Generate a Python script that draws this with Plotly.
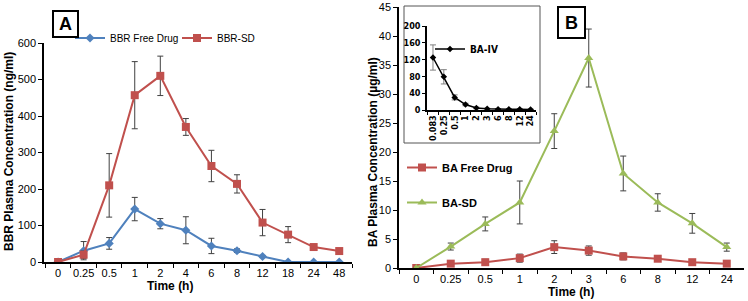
import plotly.graph_objects as go

# ---------- Panel A data ----------
a_time = ["0", "0.25", "0.5", "1", "2", "4", "6", "8", "12", "18", "24", "48"]
bbr_free = [0, 31, 51, 145, 105, 87, 44, 31, 15, 0, 0, 0]
bbr_free_err = [0, 25, 16, 32, 14, 37, 21, 5, 3, 0, 0, 0]
bbr_sd = [0, 20, 210, 457, 510, 370, 263, 214, 108, 75, 41, 30]
bbr_sd_err = [0, 10, 87, 92, 54, 23, 43, 25, 36, 22, 3, 3]

# ---------- Panel B data ----------
b_time = ["0", "0.25", "0.5", "1", "2", "3", "6", "8", "12", "24"]
ba_free = [0, 0.75, 1.0, 1.7, 3.6, 3.0, 2.0, 1.6, 1.0, 0.75]
ba_free_err = [0, 0.2, 0.5, 0.7, 1.1, 0.8, 0.6, 0.3, 0.3, 0.3]
ba_sd = [0, 3.7, 7.6, 11.3, 23.6, 36.2, 16.3, 11.3, 7.7, 3.6]
ba_sd_err = [0, 0.6, 1.2, 3.7, 3.0, 5.0, 3.0, 1.5, 1.7, 0.7]

# ---------- Inset data ----------
iv_time = ["0.083", "0.25", "0.5", "1", "2", "3", "6", "8", "12", "24"]
ba_iv = [125, 79, 30, 13, 5, 3, 2, 2, 2, 1]
ba_iv_err = [30, 17, 6, 3, 2, 1, 1, 1, 1, 1]

BLUE = "#4F81BD"
RED = "#C0504D"
GREEN = "#9BBB59"
ERR = "#404040"
FONT = "Liberation Sans, Arial, sans-serif"
NARROW = "Liberation Sans Narrow, DejaVu Sans Condensed, Arial Narrow, sans-serif"

fig = go.Figure()

def err(arr):
    return dict(type="data", array=arr, color=ERR, thickness=1, width=3)

fig.add_trace(go.Scatter(x=a_time, y=bbr_free, name="BBR Free Drug", mode="lines+markers",
                         line=dict(color=BLUE, width=2), marker=dict(symbol="diamond", size=7, color=BLUE),
                         error_y=err(bbr_free_err), xaxis="x", yaxis="y", legend="legend"))
fig.add_trace(go.Scatter(x=a_time, y=bbr_sd, name="BBR-SD", mode="lines+markers",
                         line=dict(color=RED, width=2), marker=dict(symbol="square", size=8, color=RED),
                         error_y=err(bbr_sd_err), xaxis="x", yaxis="y", legend="legend"))

fig.add_trace(go.Scatter(x=b_time, y=ba_free, name="BA Free Drug", mode="lines+markers",
                         line=dict(color=RED, width=2), marker=dict(symbol="square", size=8, color=RED),
                         error_y=err(ba_free_err), xaxis="x2", yaxis="y2", legend="legend2",
                         legendgroup="g1"))
fig.add_trace(go.Scatter(x=b_time, y=ba_sd, name="BA-SD", mode="lines+markers",
                         line=dict(color=GREEN, width=2), marker=dict(symbol="triangle-up", size=8, color=GREEN),
                         error_y=err(ba_sd_err), xaxis="x2", yaxis="y2", legend="legend2",
                         legendgroup="g2"))

fig.add_trace(go.Scatter(x=iv_time, y=ba_iv, name="BA-IV", mode="lines+markers",
                         line=dict(color="black", width=1.5), marker=dict(symbol="diamond", size=5, color="black"),
                         error_y=dict(type="data", array=ba_iv_err, color="#808080", thickness=1, width=3),
                         xaxis="x3", yaxis="y3", legend="legend3"))

def W(px):
    return px / 748

def H(py):
    return 1 - py / 301

axis_common = dict(showline=True, linecolor="black", linewidth=1.5, showgrid=False, zeroline=False,
                   ticks="outside", ticklen=4, tickcolor="black", tickwidth=1, automargin=False,
                   tickfont=dict(family=FONT, size=11, color="black"))

inset_common = dict(showline=True, linecolor="black", linewidth=1.5, showgrid=False, zeroline=False,
                    ticks="outside", ticklen=3, tickcolor="black", automargin=False,
                    tickfont=dict(family=NARROW, size=9, color="black", weight="bold"))

def ann(text, x, y, size=12, angle=0, **kw):
    return dict(text=text, x=W(x), y=H(y), xref="paper", yref="paper", showarrow=False,
                xanchor="center", yanchor="middle", textangle=angle,
                font=dict(family=FONT, size=size, color="black"), **kw)

fig.update_layout(
    width=748, height=301, margin=dict(l=0, r=0, t=0, b=0, autoexpand=False),
    paper_bgcolor="white", plot_bgcolor="rgba(0,0,0,0)",
    font=dict(family=FONT, color="black"),
    xaxis=dict(domain=[W(44), W(352)], anchor="y", type="category", categoryorder="array",
               categoryarray=a_time, range=[-0.55, 11.5], tickson="boundaries", tickangle=0,
               tickmode="array", tickvals=a_time, **axis_common),
    yaxis=dict(domain=[H(262), H(43)], anchor="x", range=[0, 600], dtick=100, **axis_common),
    xaxis2=dict(domain=[W(399), W(744)], anchor="y2", type="category", categoryorder="array",
                categoryarray=b_time, range=[-0.5, 9.5], tickson="boundaries", tickangle=0,
                tickmode="array", tickvals=b_time, **axis_common),
    yaxis2=dict(domain=[H(268), H(7)], anchor="x2", range=[0, 45], dtick=5, **axis_common),
    xaxis3=dict(domain=[W(427), W(536)], anchor="y3", type="category", categoryorder="array",
                categoryarray=iv_time, range=[-0.55, 9.5], tickangle=-90, tickson="boundaries",
                tickmode="array", tickvals=iv_time, **inset_common),
    yaxis3=dict(domain=[H(110), H(26)], anchor="x3", range=[0, 200], dtick=40, **inset_common),
    legend=dict(orientation="h", x=W(70), y=H(38), xanchor="left", yanchor="middle",
                bgcolor="rgba(0,0,0,0)", font=dict(family=FONT, size=10, color="black"),
                itemwidth=30, entrywidth=62, entrywidthmode="pixels"),
    legend2=dict(orientation="v", x=W(402), y=H(153), xanchor="left", yanchor="top",
                 bgcolor="rgba(0,0,0,0)", font=dict(family=FONT, size=11, color="black", weight="bold"),
                 itemwidth=30, tracegroupgap=16),
    legend3=dict(orientation="v", x=W(430), y=H(49), xanchor="left", yanchor="middle",
                 bgcolor="rgba(0,0,0,0)", font=dict(family=NARROW, size=10, color="black", weight="bold"),
                 itemwidth=30),
    shapes=[dict(type="rect", xref="paper", yref="paper", x0=W(404), x1=W(540), y0=H(143), y1=H(6),
                 line=dict(color="#555555", width=1), fillcolor="white", layer="below")],
    annotations=[
        ann("<b>BBR Plasma Concentration (ng/ml)</b>", 9, 152, angle=-90),
        ann("<b>Time (h)</b>", 170, 286),
        ann("<b>BA Plasma Concentration (µg/ml)</b>", 373, 152, angle=-90),
        ann("<b>Time (h)</b>", 571, 292),
        ann("<b>A</b>", 65.5, 24, size=18, bordercolor="black", borderwidth=2, bgcolor="white",
            borderpad=1, width=21, height=22),
        ann("<b>B</b>", 571.5, 22.5, size=18, bordercolor="black", borderwidth=2, bgcolor="white",
            borderpad=1, width=23, height=27),
    ],
)

fig.write_html("out.html", config={"displayModeBar": False},
               post_script="document.body.style.margin='0';")
